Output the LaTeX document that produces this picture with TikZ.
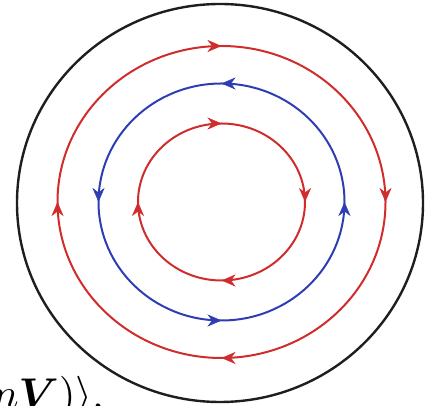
\documentclass[tikz,border=0pt]{standalone}
\usepackage{amsmath}
\usepackage{bm}
\usetikzlibrary{decorations.markings,arrows.meta}
\definecolor{ringred}{RGB}{208,44,44}
\definecolor{ringblue}{RGB}{46,62,178}
\definecolor{ringblack}{RGB}{30,30,30}
\tikzset{
  ccwmark/.style={postaction={decorate},decoration={markings,
      mark=at position 0.5 with {\arrow{Stealth[length=14pt,width=12pt,inset=4.5pt]}}}},
  cwmark/.style={postaction={decorate},decoration={markings,
      mark=at position 0.5 with {\arrowreversed{Stealth[length=14pt,width=12pt,inset=4.5pt]}}}},
  ring/.style={line width=2pt},
}
\begin{document}
\begin{tikzpicture}[x=1pt,y=1pt]
\useasboundingbox (0,0) rectangle (425,406);
\clip (0,0) rectangle (425,406);
\coordinate (c) at (221.5,204);
\coordinate (cb) at (220,203);
% black outer circle
\draw[ringblack,line width=2.4pt] (cb) ellipse[x radius=203,y radius=199];
% outer red (clockwise)
\draw[ringred,ring] (c) ellipse[x radius=164,y radius=156];
\foreach \a in {-45,45,135,225}{
  \path[ringred,cwmark] (c) ++(\a:164 and 156) arc[start angle=\a,delta angle=90,x radius=164,y radius=156];
}
% blue (counter-clockwise)
\draw[ringblue,ring] (c) ellipse[x radius=123,y radius=118.5];
\foreach \a in {-45,45,135,225}{
  \path[ringblue,ccwmark] (c) ++(\a:123 and 118.5) arc[start angle=\a,delta angle=90,x radius=123,y radius=118.5];
}
% inner red (clockwise)
\draw[ringred,ring] (c) ellipse[x radius=83.5,y radius=78.5];
\foreach \a in {-45,45,135,225}{
  \path[ringred,cwmark] (c) ++(\a:83.5 and 78.5) arc[start angle=\a,delta angle=90,x radius=83.5,y radius=78.5];
}
% cropped formula fragment
\node[anchor=base west,inner sep=0pt,scale=4.3] (frag) at (-8,-3)
  {$n\bm{V})\rangle$,};
\end{tikzpicture}
\end{document}
